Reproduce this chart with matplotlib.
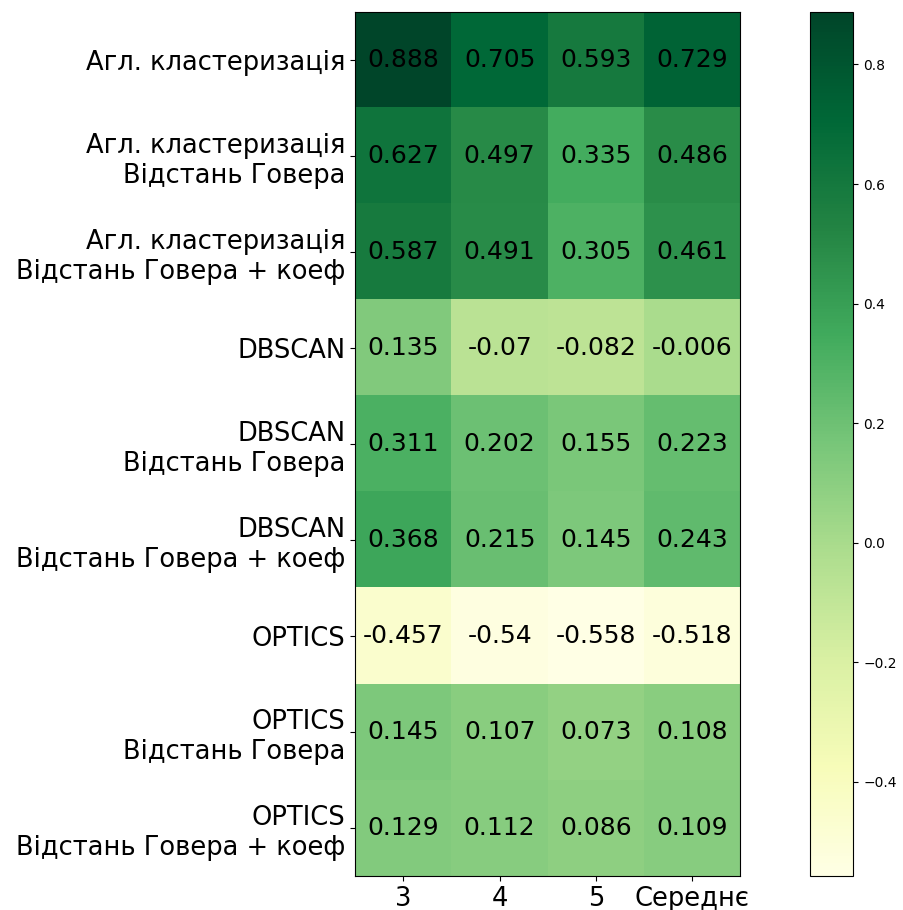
import numpy as np
import matplotlib.pyplot as plt

methods = ['Агл. кластеризація',
           'Агл. кластеризація\nВідстань Говера',
           'Агл. кластеризація\nВідстань Говера + коеф',
           'DBSCAN',
           'DBSCAN\nВідстань Говера',
           'DBSCAN\nВідстань Говера + коеф',
           'OPTICS',
           'OPTICS\nВідстань Говера',
           'OPTICS\nВідстань Говера + коеф']
columns = ['3', '4', '5', 'Середнє']

k3 = [0.888, 0.627, 0.587, 0.135, 0.311, 0.368, -0.457, 0.145, 0.129]
k4 = [0.705, 0.497, 0.491, -0.07, 0.202, 0.215, -0.54, 0.107, 0.112]
k5 = [0.593, 0.335, 0.305, -0.082, 0.155, 0.145, -0.558, 0.073, 0.086]
mean = [0.729, 0.486, 0.461, -0.006, 0.223, 0.243, -0.518, 0.108, 0.109]

scores = np.array([k3, k4, k5, mean]).T

fig = plt.figure(figsize=(9.04, 9.1), dpi=100)
ax = fig.add_axes([0.393, 0.037, 0.426, 0.950])
cax = fig.add_axes([0.896, 0.037, 0.048, 0.950])

im = ax.imshow(scores, cmap='YlGn', aspect='auto')
fig.colorbar(im, cax=cax)

ax.set_xticks(np.arange(len(columns)))
ax.set_xticklabels(columns, fontsize=18.5)
ax.set_yticks(np.arange(len(methods)))
ax.set_yticklabels(methods, fontsize=18.5)

for i in range(len(methods)):
    for j in range(len(columns)):
        ax.text(j, i, str(scores[i, j]), ha='center', va='center',
                color='black', fontsize=18)

plt.savefig('out.png', dpi=100)
